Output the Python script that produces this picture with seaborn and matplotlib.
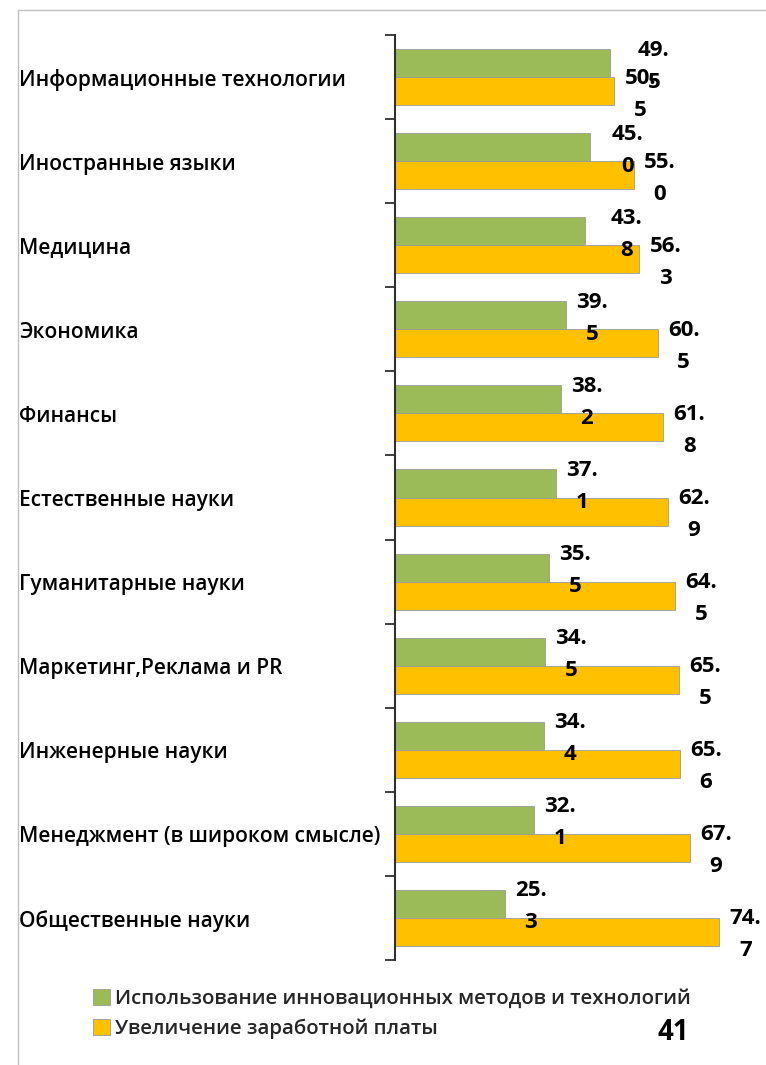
import numpy as np
import pandas as pd
import matplotlib
matplotlib.use("Agg")
import matplotlib.pyplot as plt
import matplotlib.transforms as mtransforms
from matplotlib.patches import Patch
from matplotlib.lines import Line2D
import seaborn as sns

# ---------------- data ----------------
categories = [
    "Информационные технологии",
    "Иностранные языки",
    "Медицина",
    "Экономика",
    "Финансы",
    "Естественные науки",
    "Гуманитарные науки",
    "Маркетинг,Реклама и PR",
    "Инженерные науки",
    "Менеджмент (в широком смысле)",
    "Общественные науки",
]
innovation = [49.5, 45.0, 43.8, 39.5, 38.2, 37.1, 35.5, 34.5, 34.4, 32.1, 25.3]
salary = [50.5, 55.0, 56.3, 60.5, 61.8, 62.9, 64.5, 65.5, 65.6, 67.9, 74.7]
series_names = [
    "Использование инновационных методов и технологий",
    "Увеличение заработной платы",
]
page_number = "41"

# label horizontal shifts (px) for the green value labels as placed in the original
green_label_shift_px = [44, 37, 41, 26, 26, 26, 26, 26, 26, 26, 26]

GREEN = "#9BBB59"
ORANGE = "#FFC000"

df = pd.DataFrame({
    "category": categories * 2,
    "value": innovation + salary,
    "series": [series_names[0]] * len(categories) + [series_names[1]] * len(categories),
})

sns.set_theme(style="white")
plt.rcParams["font.family"] = ["Open Sans", "DejaVu Sans"]

W, H = 766, 1065
fig = plt.figure(figsize=(W / 100, H / 100), dpi=100)
ax_left, ax_right = 395, 764
ax_top, ax_bottom = 35, 960
ax = fig.add_axes([ax_left / W, 1 - ax_bottom / H, (ax_right - ax_left) / W, (ax_bottom - ax_top) / H])

sns.barplot(
    data=df, y="category", x="value", hue="series", orient="h",
    palette=[GREEN, ORANGE], width=0.667, dodge=True, ax=ax,
    edgecolor="#9a9a9a", linewidth=0.6, legend=False, saturation=1,
)

ax.set_xlim(0, 85)
n = len(categories)
ax.set_ylim(n - 0.5, -0.5)
ax.set_yticks(np.arange(-0.5, n, 1.0))
ax.set_yticklabels([])
ax.tick_params(axis="y", which="major", left=True, length=7.2, width=1.3,
               color="#303030", direction="out")
ax.xaxis.set_visible(False)
ax.set_ylabel("")
ax.set_xlabel("")
for s in ["top", "right", "bottom"]:
    ax.spines[s].set_visible(False)
ax.spines["left"].set_color("#303030")
ax.spines["left"].set_linewidth(1.5)

# category labels, left aligned near figure edge
trans = mtransforms.blended_transform_factory(fig.transFigure, ax.transData)
for i, c in enumerate(categories):
    ax.text(19 / W, i + 0.035, c, transform=trans, ha="left", va="center",
            fontsize=15, fontweight="semibold", color="black")

# value labels (wrapped in two lines as in the original)
def split_val(v):
    s = f"{v:.1f}"
    a, b = s.split(".")
    return a + ".", b

px2pt = 72 / 100
for k, cont in enumerate(ax.containers):
    for i, bar in enumerate(cont):
        v = bar.get_width()
        yc = bar.get_y() + bar.get_height() / 2
        dx = green_label_shift_px[i] if k == 0 else 26
        l1, l2 = split_val(v)
        z = 5 if k == 0 else 4
        ax.annotate(l1, (v, yc), xytext=(dx * px2pt, 13 * px2pt), textcoords="offset points",
                    ha="center", va="center", fontsize=16, fontweight="bold", color="black",
                    annotation_clip=False, zorder=z)
        ax.annotate(l2, (v, yc), xytext=(dx * px2pt, -19 * px2pt), textcoords="offset points",
                    ha="center", va="center", fontsize=16, fontweight="bold", color="black",
                    annotation_clip=False, zorder=z)

# legend
handles = [Patch(facecolor=GREEN, edgecolor="#9a9a9a", linewidth=0.6),
           Patch(facecolor=ORANGE, edgecolor="#9a9a9a", linewidth=0.6)]
fig.legend(handles, series_names, loc="upper left", bbox_to_anchor=(93 / W, 1 - 989 / H),
           frameon=False, handlelength=0.85, handleheight=0.85,
           handletextpad=0.25, labelspacing=0.45, borderpad=0, borderaxespad=0,
           prop={"weight": "semibold", "size": 14.7})

fig.text(673 / W, 1 - 1033 / H, page_number, ha="center", va="center",
         fontsize=20, fontweight="bold", color="black")

# page border lines
fig.add_artist(Line2D([18 / W, 1], [1 - 9.5 / H, 1 - 9.5 / H], transform=fig.transFigure,
                      color="#BFBFBF", lw=1))
fig.add_artist(Line2D([18 / W, 18 / W], [1 - 9.5 / H, 0], transform=fig.transFigure,
                      color="#BFBFBF", lw=1))

fig.savefig("out.png", dpi=100, facecolor="white")
